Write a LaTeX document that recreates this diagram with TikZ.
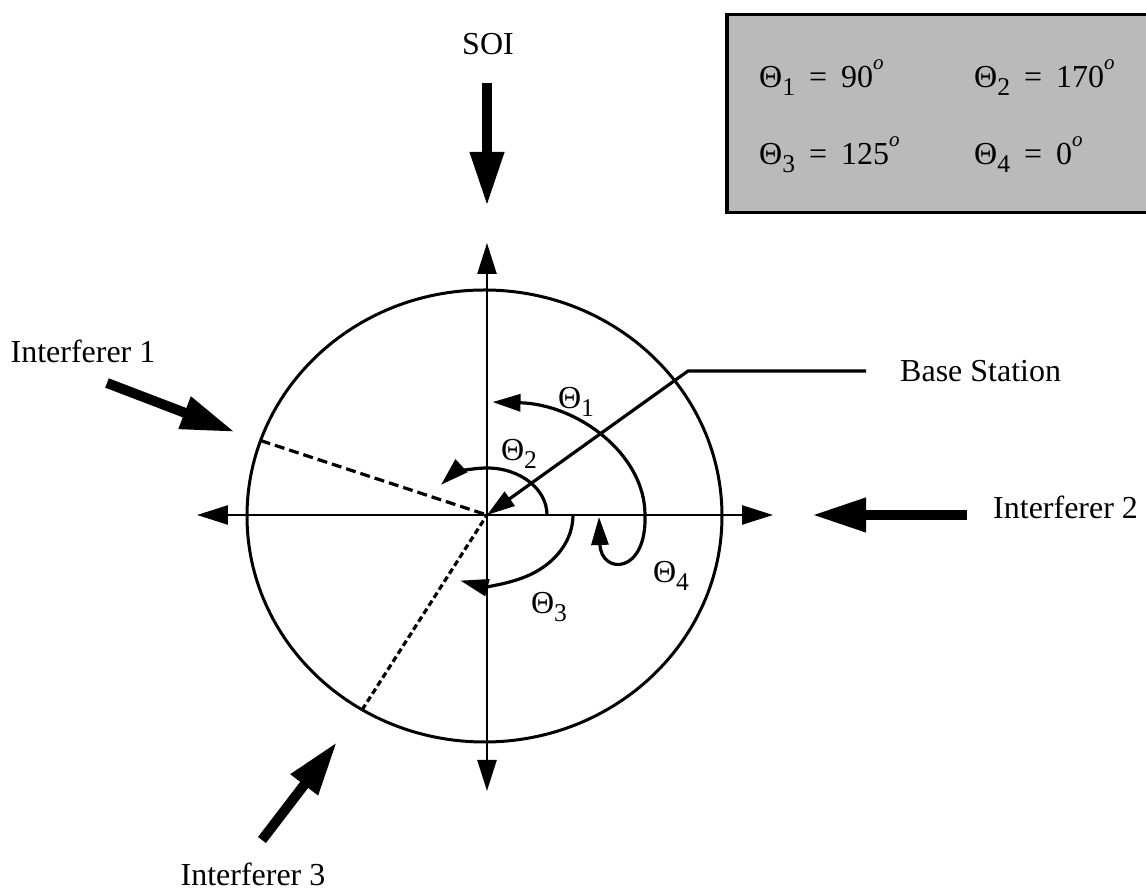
\documentclass[tikz,border=0pt]{standalone}
\usepackage{fontspec}
\setmainfont{Liberation Serif}
\usetikzlibrary{arrows.meta,positioning,calc}

\newcommand{\thsub}[1]{Θ\raisebox{-8pt}{\scalebox{.8}{#1}}}
\newcommand{\dg}{\raisebox{18pt}{\fontsize{21}{21}\selectfont\itshape o}}
\newcommand{\eqs}{\hspace{14pt}=\hspace{14pt}}

\begin{document}
\begin{tikzpicture}[
    x=1pt, y=1pt,
    font=\fontsize{32}{38}\selectfont,
    axisline/.style={draw, line width=2.5pt, -{Triangle[length=31pt,width=19pt]}},
    sweep/.style={draw, line width=3.2pt, -{Triangle[length=28pt,width=17pt]}},
    signal/.style={draw, line width=10pt, -{Triangle[length=54pt,width=32pt]}},
    rim/.style={draw, line width=3pt},
    path1/.style={draw, line width=3.2pt, dash pattern=on 10pt off 5pt},
    path3/.style={draw, line width=3.2pt, dash pattern=on 6pt off 3.5pt},
    tag/.style={inner sep=0pt, anchor=base},
    legend/.style={rectangle, draw, line width=3.5pt, fill=black!27, minimum width=440pt, minimum height=198pt, anchor=north west, inner sep=0pt}
]
    \useasboundingbox (-487,-378) rectangle (659,515);

    \coordinate (O) at (0,0);
    \coordinate (C) at (-2.5,-1);
    \draw[rim] (C) ellipse [x radius=237.5, y radius=226];

    % axes
    \coordinate (top) at (0,272);
    \coordinate (bottom) at (0,-276);
    \coordinate (left) at (-290,0);
    \coordinate (right) at (286,0);
    \draw[axisline] (O) -- (top);
    \draw[axisline] (O) -- (bottom);
    \draw[axisline] (O) -- (left);
    \draw[axisline] (O) -- (right);

    % paths of the interferers
    \path (C) ++(160.5:237.5 and 226) coordinate (edge1);
    \path (C) ++(239:237.5 and 226) coordinate (edge3);
    \draw[path1] (edge1) -- (O);
    \draw[path3] (edge3) -- (O);

    % angles
    \draw[sweep] (158,0) arc[start angle=0, end angle=88, x radius=158, y radius=113];
    \draw[sweep] (60,0) arc[start angle=0, end angle=140, x radius=60, y radius=47];
    \draw[sweep] (86,0) arc[start angle=0, end angle=-108, x radius=86, y radius=69];
    \draw[sweep] (158,0) .. controls (160,-60) and (114,-60) .. (112,-2);

    \node[tag] (th1) at (89,106) {\thsub{1}};
    \node[tag] (th2) at (32,54) {\thsub{2}};
    \node[tag] (th3) at (62,-99) {\thsub{3}};
    \node[tag] (th4) at (184,-68) {\thsub{4}};

    % base station
    \node[tag, anchor=base west] (bs) at (413,133) {Base Station};
    \coordinate (bsA) at (379,144);
    \coordinate (bsB) at (201,144);
    \draw[sweep] (bsA) -- (bsB) -- (O);

    % incoming signals
    \node[tag] (soi) at (1,460) {SOI};
    \coordinate (soiA) at (0,432);
    \coordinate (soiB) at (0,309);
    \draw[signal] (soiA) -- (soiB);

    \node[tag] (int1) at (-404,152) {Interferer 1};
    \coordinate (int1A) at (-380,132);
    \coordinate (int1B) at (-252,83);
    \draw[signal] (int1A) -- (int1B);

    \node[tag, anchor=base west] (int2) at (506,-4) {Interferer 2};
    \coordinate (int2A) at (480,0);
    \coordinate (int2B) at (325,0);
    \draw[signal] (int2A) -- (int2B);

    \node[tag] (int3) at (-234,-371) {Interferer 3};
    \coordinate (int3A) at (-225,-325);
    \coordinate (int3B) at (-150,-227);
    \draw[signal] (int3A) -- (int3B);

    % table of angles
    \node[legend] (tbl) at (238,502) {};
    \node[tag, anchor=base west] (v1) at (272,427) {\thsub{1}\eqs 90\dg};
    \node[tag, anchor=base west] (v2) at (487,427) {\thsub{2}\eqs 170\dg};
    \node[tag, anchor=base west] (v3) at (272,350) {\thsub{3}\eqs 125\dg};
    \node[tag, anchor=base west] (v4) at (487,350) {\thsub{4}\eqs 0\dg};
\end{tikzpicture}
\end{document}
